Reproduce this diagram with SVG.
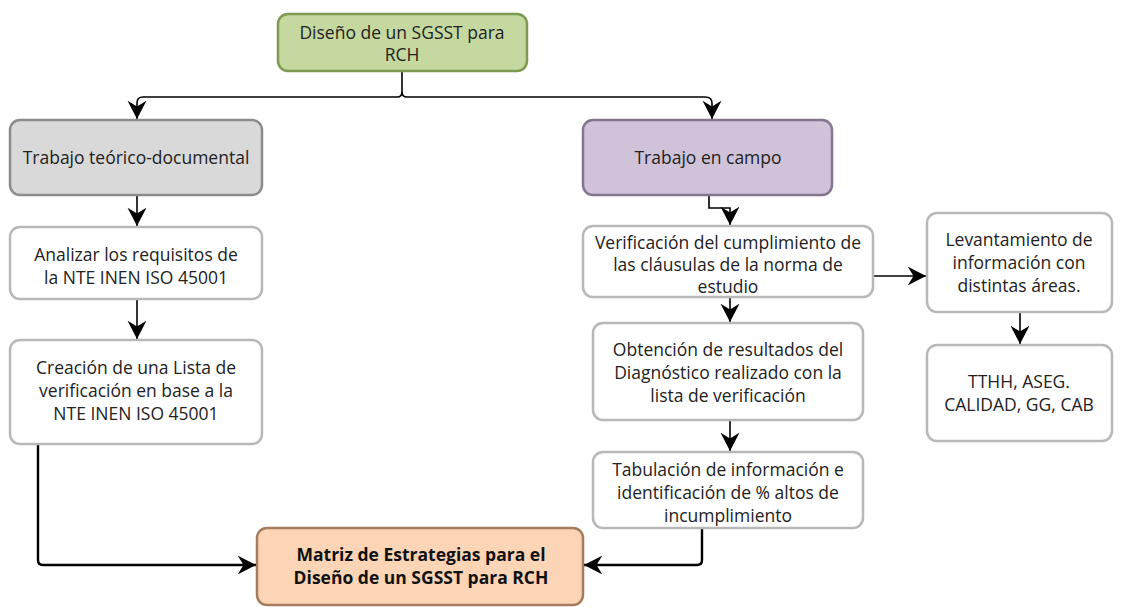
<svg xmlns="http://www.w3.org/2000/svg" width="1126" height="610" viewBox="0 0 1126 610">
<style>
.t{font-family:"Open Sans","Noto Sans",sans-serif;font-size:17.5px;fill:#222;text-anchor:middle}
.b{font-weight:bold;fill:#111}
.w{fill:#fff;stroke:#b8b8b8;stroke-width:2.5}
.c{fill:none;stroke:#000;stroke-width:1.6}
.c2{fill:none;stroke:#000;stroke-width:2.4}
</style>
<defs>
<marker id="ah" viewBox="0 0 12 12" refX="11" refY="6" markerWidth="20" markerHeight="20" markerUnits="userSpaceOnUse" orient="auto">
<path d="M0,0.3 L11,6 L0,11.7 L3.5,6 z" fill="#000"/>
</marker>
</defs>
<rect width="1126" height="610" fill="#fff"/>
<g id="connectors">
<path class="c" d="M402,71 V92 Q402,97 397,97 H143 Q137,97 137,103 V119" marker-end="url(#ah)"/>
<path class="c" d="M402,92 Q402,97 407,97 H705 Q712,97 712,103 V119" marker-end="url(#ah)"/>
<path class="c" d="M137,195 V226" marker-end="url(#ah)"/>
<path class="c" d="M137,299 V339" marker-end="url(#ah)"/>
<path class="c2" d="M38,444 V560 Q38,565 43,565 H256" marker-end="url(#ah)"/>
<path class="c" d="M709,195 V208 H730 V225" marker-end="url(#ah)"/>
<path class="c" d="M873,276 H926" marker-end="url(#ah)"/>
<path class="c" d="M730,297 V322" marker-end="url(#ah)"/>
<path class="c" d="M730,420 V451" marker-end="url(#ah)"/>
<path class="c" d="M1020,312 V344" marker-end="url(#ah)"/>
<path class="c2" d="M702,528 V560 Q702,565 697,565 H584" marker-end="url(#ah)"/>
</g>
<g id="n-top">
<rect x="278" y="14" width="249" height="57" rx="10" fill="#c5d89f" stroke="#7f9a50" stroke-width="2.5"/>
<text class="t" x="402" y="39">Diseño de un SGSST para</text>
<text class="t" x="402" y="61">RCH</text>
</g>
<g id="n-teorico">
<rect x="10" y="120" width="252" height="75" rx="10" fill="#d9d9d9" stroke="#8c8c8c" stroke-width="2.5"/>
<text class="t" x="136" y="164">Trabajo teórico-documental</text>
</g>
<g id="n-campo">
<rect x="583" y="120" width="249" height="75" rx="10" fill="#cfc2d9" stroke="#85768f" stroke-width="2.5"/>
<text class="t" x="708" y="164">Trabajo en campo</text>
</g>
<g id="n-analizar">
<rect class="w" x="10" y="227" width="252" height="72" rx="10"/>
<text class="t" x="136" y="261">Analizar los requisitos de</text>
<text class="t" x="136" y="284">la NTE INEN ISO 45001</text>
</g>
<g id="n-creacion">
<rect class="w" x="10" y="340" width="252" height="104" rx="10"/>
<text class="t" x="136" y="374">Creación de una Lista de</text>
<text class="t" x="136" y="397">verificación en base a la</text>
<text class="t" x="136" y="420">NTE INEN ISO 45001</text>
</g>
<g id="n-matriz">
<rect x="257" y="528" width="326" height="77" rx="10" fill="#fbd5b5" stroke="#a57c5e" stroke-width="2.5"/>
<text class="t b" x="421" y="561">Matriz de Estrategias para el</text>
<text class="t b" x="421" y="584">Diseño de un SGSST para RCH</text>
</g>
<g id="n-verificacion">
<rect class="w" x="583" y="226" width="290" height="71" rx="10"/>
<text class="t" x="728" y="249">Verificación del cumplimiento de</text>
<text class="t" x="728" y="271">las cláusulas de la norma de</text>
<text class="t" x="728" y="293">estudio</text>
</g>
<g id="n-levantamiento">
<rect class="w" x="927" y="213" width="185" height="99" rx="10"/>
<text class="t" x="1019" y="246">Levantamiento de</text>
<text class="t" x="1019" y="269">información con</text>
<text class="t" x="1019" y="292">distintas áreas.</text>
</g>
<g id="n-areas">
<rect class="w" x="927" y="345" width="185" height="96" rx="10"/>
<text class="t" x="1019" y="388">TTHH, ASEG.</text>
<text class="t" x="1019" y="411">CALIDAD, GG, CAB</text>
</g>
<g id="n-obtencion">
<rect class="w" x="593" y="323" width="270" height="97" rx="10"/>
<text class="t" x="728" y="356">Obtención de resultados del</text>
<text class="t" x="728" y="379">Diagnóstico realizado con la</text>
<text class="t" x="728" y="402">lista de verificación</text>
</g>
<g id="n-tabulacion">
<rect class="w" x="593" y="452" width="270" height="76" rx="10"/>
<text class="t" x="728" y="476">Tabulación de información e</text>
<text class="t" x="728" y="499">identificación de % altos de</text>
<text class="t" x="728" y="522">incumplimiento</text>
</g>
</svg>
